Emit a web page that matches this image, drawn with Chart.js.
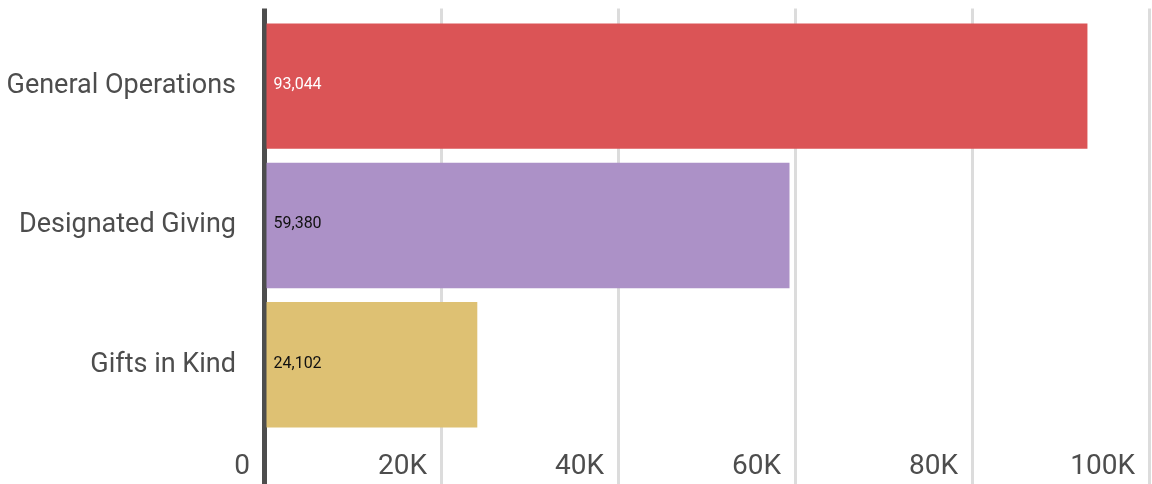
<!DOCTYPE html>
<html>
<head>
<meta charset="utf-8">
<script src="https://cdn.jsdelivr.net/npm/chart.js@4/dist/chart.umd.min.js"></script>
<style>
  html, body { margin: 0; padding: 0; background: #ffffff; }
  #wrap { width: 1152px; height: 484px; position: relative; }
</style>
</head>
<body>
<div id="wrap"><canvas id="c"></canvas></div>
<script>
const categories = ["General Operations", "Designated Giving", "Gifts in Kind"];
const values = [93044, 59380, 24102];
const barColors = ["#DB5456", "#AC91C7", "#DEC173"];
const valueLabelColors = ["#ffffff", "#111111", "#111111"];
const xTickValues = [0, 20000, 40000, 60000, 80000, 100000];
const xTickLabels = ["0", "20K", "40K", "60K", "80K", "100K"];

const TEXT = "#4d4d4d";
const GRID = "#dcdcdc";
const ZERO = "#4d4d4d";

const gridColor = ctx => (ctx.tick && ctx.tick.value === 0) ? ZERO : GRID;
const gridWidth = ctx => (ctx.tick && ctx.tick.value === 0) ? 5 : 3;

const valueLabelPlugin = {
  id: 'valueLabels',
  afterDatasetsDraw(chart) {
    const c = chart.ctx;
    const meta = chart.getDatasetMeta(0);
    c.save();
    c.font = '16px Roboto';
    c.textAlign = 'left';
    c.textBaseline = 'middle';
    meta.data.forEach((bar, i) => {
      c.fillStyle = valueLabelColors[i];
      c.fillText(values[i].toLocaleString('en-US'), bar.base + 7, bar.y - 1);
    });
    c.restore();
  }
};

new Chart(document.getElementById('c'), {
  type: 'bar',
  data: {
    labels: categories,
    datasets: [{
      data: values,
      backgroundColor: barColors,
      borderWidth: 0,
      barPercentage: 0.9,
      categoryPercentage: 1.0
    }]
  },
  plugins: [valueLabelPlugin],
  options: {
    indexAxis: 'y',
    responsive: true,
    maintainAspectRatio: false,
    animation: false,
    devicePixelRatio: 1,
    layout: { padding: { top: 9, right: 3, left: 0, bottom: 0 } },
    plugins: {
      legend: { display: false },
      tooltip: { enabled: false },
      title: { display: false }
    },
    scales: {
      x: {
        type: 'linear',
        position: 'bottom',
        min: 0,
        max: 100000,
        afterBuildTicks: s => { s.ticks = xTickValues.map(v => ({ value: v })); },
        afterFit: s => { s.height = 49.6; s.paddingLeft = 0; s.paddingRight = 0; },
        border: { display: false },
        grid: {
          color: gridColor,
          lineWidth: gridWidth,
          tickColor: gridColor,
          tickWidth: gridWidth,
          drawTicks: true,
          tickLength: 50
        },
        ticks: {
          autoSkip: false,
          maxRotation: 0,
          minRotation: 0,
          align: 'end',
          labelOffset: -14,
          padding: -34,
          color: TEXT,
          font: { family: 'Roboto', size: 28 },
          callback: (v, i) => xTickLabels[xTickValues.indexOf(v)]
        }
      },
      x2: {
        type: 'linear',
        position: 'top',
        min: 0,
        max: 100000,
        afterBuildTicks: s => { s.ticks = xTickValues.map(v => ({ value: v })); },
        afterFit: s => { s.height = 7.5; s.paddingLeft = 0; s.paddingRight = 0; },
        border: { display: false },
        grid: {
          drawOnChartArea: false,
          color: gridColor,
          lineWidth: gridWidth,
          tickColor: gridColor,
          tickWidth: gridWidth,
          drawTicks: true,
          tickLength: 8
        },
        ticks: { display: false }
      },
      y: {
        position: 'left',
        z: 1,
        afterFit: s => { s.width = 264; s.paddingTop = 0; s.paddingBottom = 0; },
        border: { display: true, color: ZERO, width: 5 },
        grid: { display: false, drawTicks: false },
        ticks: {
          color: TEXT,
          padding: 28,
          font: { family: 'Roboto', size: 27 }
        }
      }
    }
  }
});
</script>
</body>
</html>
